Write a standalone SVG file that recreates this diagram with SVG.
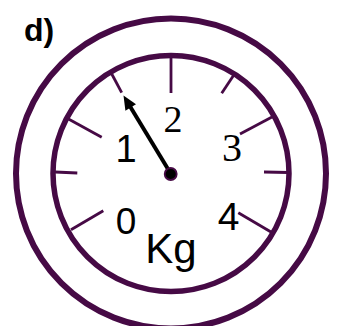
<svg xmlns="http://www.w3.org/2000/svg" width="337" height="326" viewBox="0 0 337 326">
<style>
.ring{fill:none;stroke:#460A45}
.tick{stroke:#460A45;stroke-width:2.8;stroke-linecap:butt}
.sans{font-family:"Liberation Sans",Arial,sans-serif;fill:#000}
.serif{font-family:"Liberation Serif","Times New Roman",serif;fill:#000}
</style>
<rect width="337" height="326" fill="#fff"/>
<text class="sans" x="24" y="41" font-size="32" font-weight="bold">d)</text>
<g id="gauge">
<circle class="ring" cx="171" cy="173.5" r="155" stroke-width="6"/>
<circle class="ring" cx="171" cy="173.5" r="118" stroke-width="5.5"/>
</g>
<g id="ticks">
<line class="tick" x1="171" y1="57" x2="171" y2="93"/>
<line class="tick" x1="111.5" y1="73.5" x2="121.7" y2="92.7"/>
<line class="tick" x1="233.5" y1="75.5" x2="221.7" y2="93.3"/>
<line class="tick" x1="68.5" y1="119" x2="101.7" y2="137.3"/>
<line class="tick" x1="272" y1="117" x2="240" y2="134"/>
<line class="tick" x1="55" y1="172" x2="77.3" y2="173"/>
<line class="tick" x1="288" y1="172.5" x2="264" y2="172"/>
<line class="tick" x1="71" y1="229.8" x2="103.3" y2="210.7"/>
<line class="tick" x1="271" y1="232" x2="238.3" y2="212.7"/>
</g>
<g id="labels">
<text class="sans" x="126" y="162" font-size="38" text-anchor="middle">1</text>
<text class="serif" x="173" y="131.5" font-size="38" text-anchor="middle">2</text>
<text class="serif" x="232" y="160.5" font-size="40" text-anchor="middle">3</text>
<text class="sans" x="126" y="233.5" font-size="37" text-anchor="middle">0</text>
<text class="sans" x="228.5" y="230" font-size="39" text-anchor="middle">4</text>
<text class="sans" x="171" y="263" font-size="42" text-anchor="middle">Kg</text>
</g>
<g id="needle">
<line x1="171" y1="174" x2="129.5" y2="105.5" stroke="#000" stroke-width="4"/>
<polygon points="123.5,95.5 136,104.2 125.4,110.8" fill="#000"/>
<circle cx="170.7" cy="174" r="6" fill="#000" stroke="#460A45" stroke-width="1.8"/>
</g>
</svg>
